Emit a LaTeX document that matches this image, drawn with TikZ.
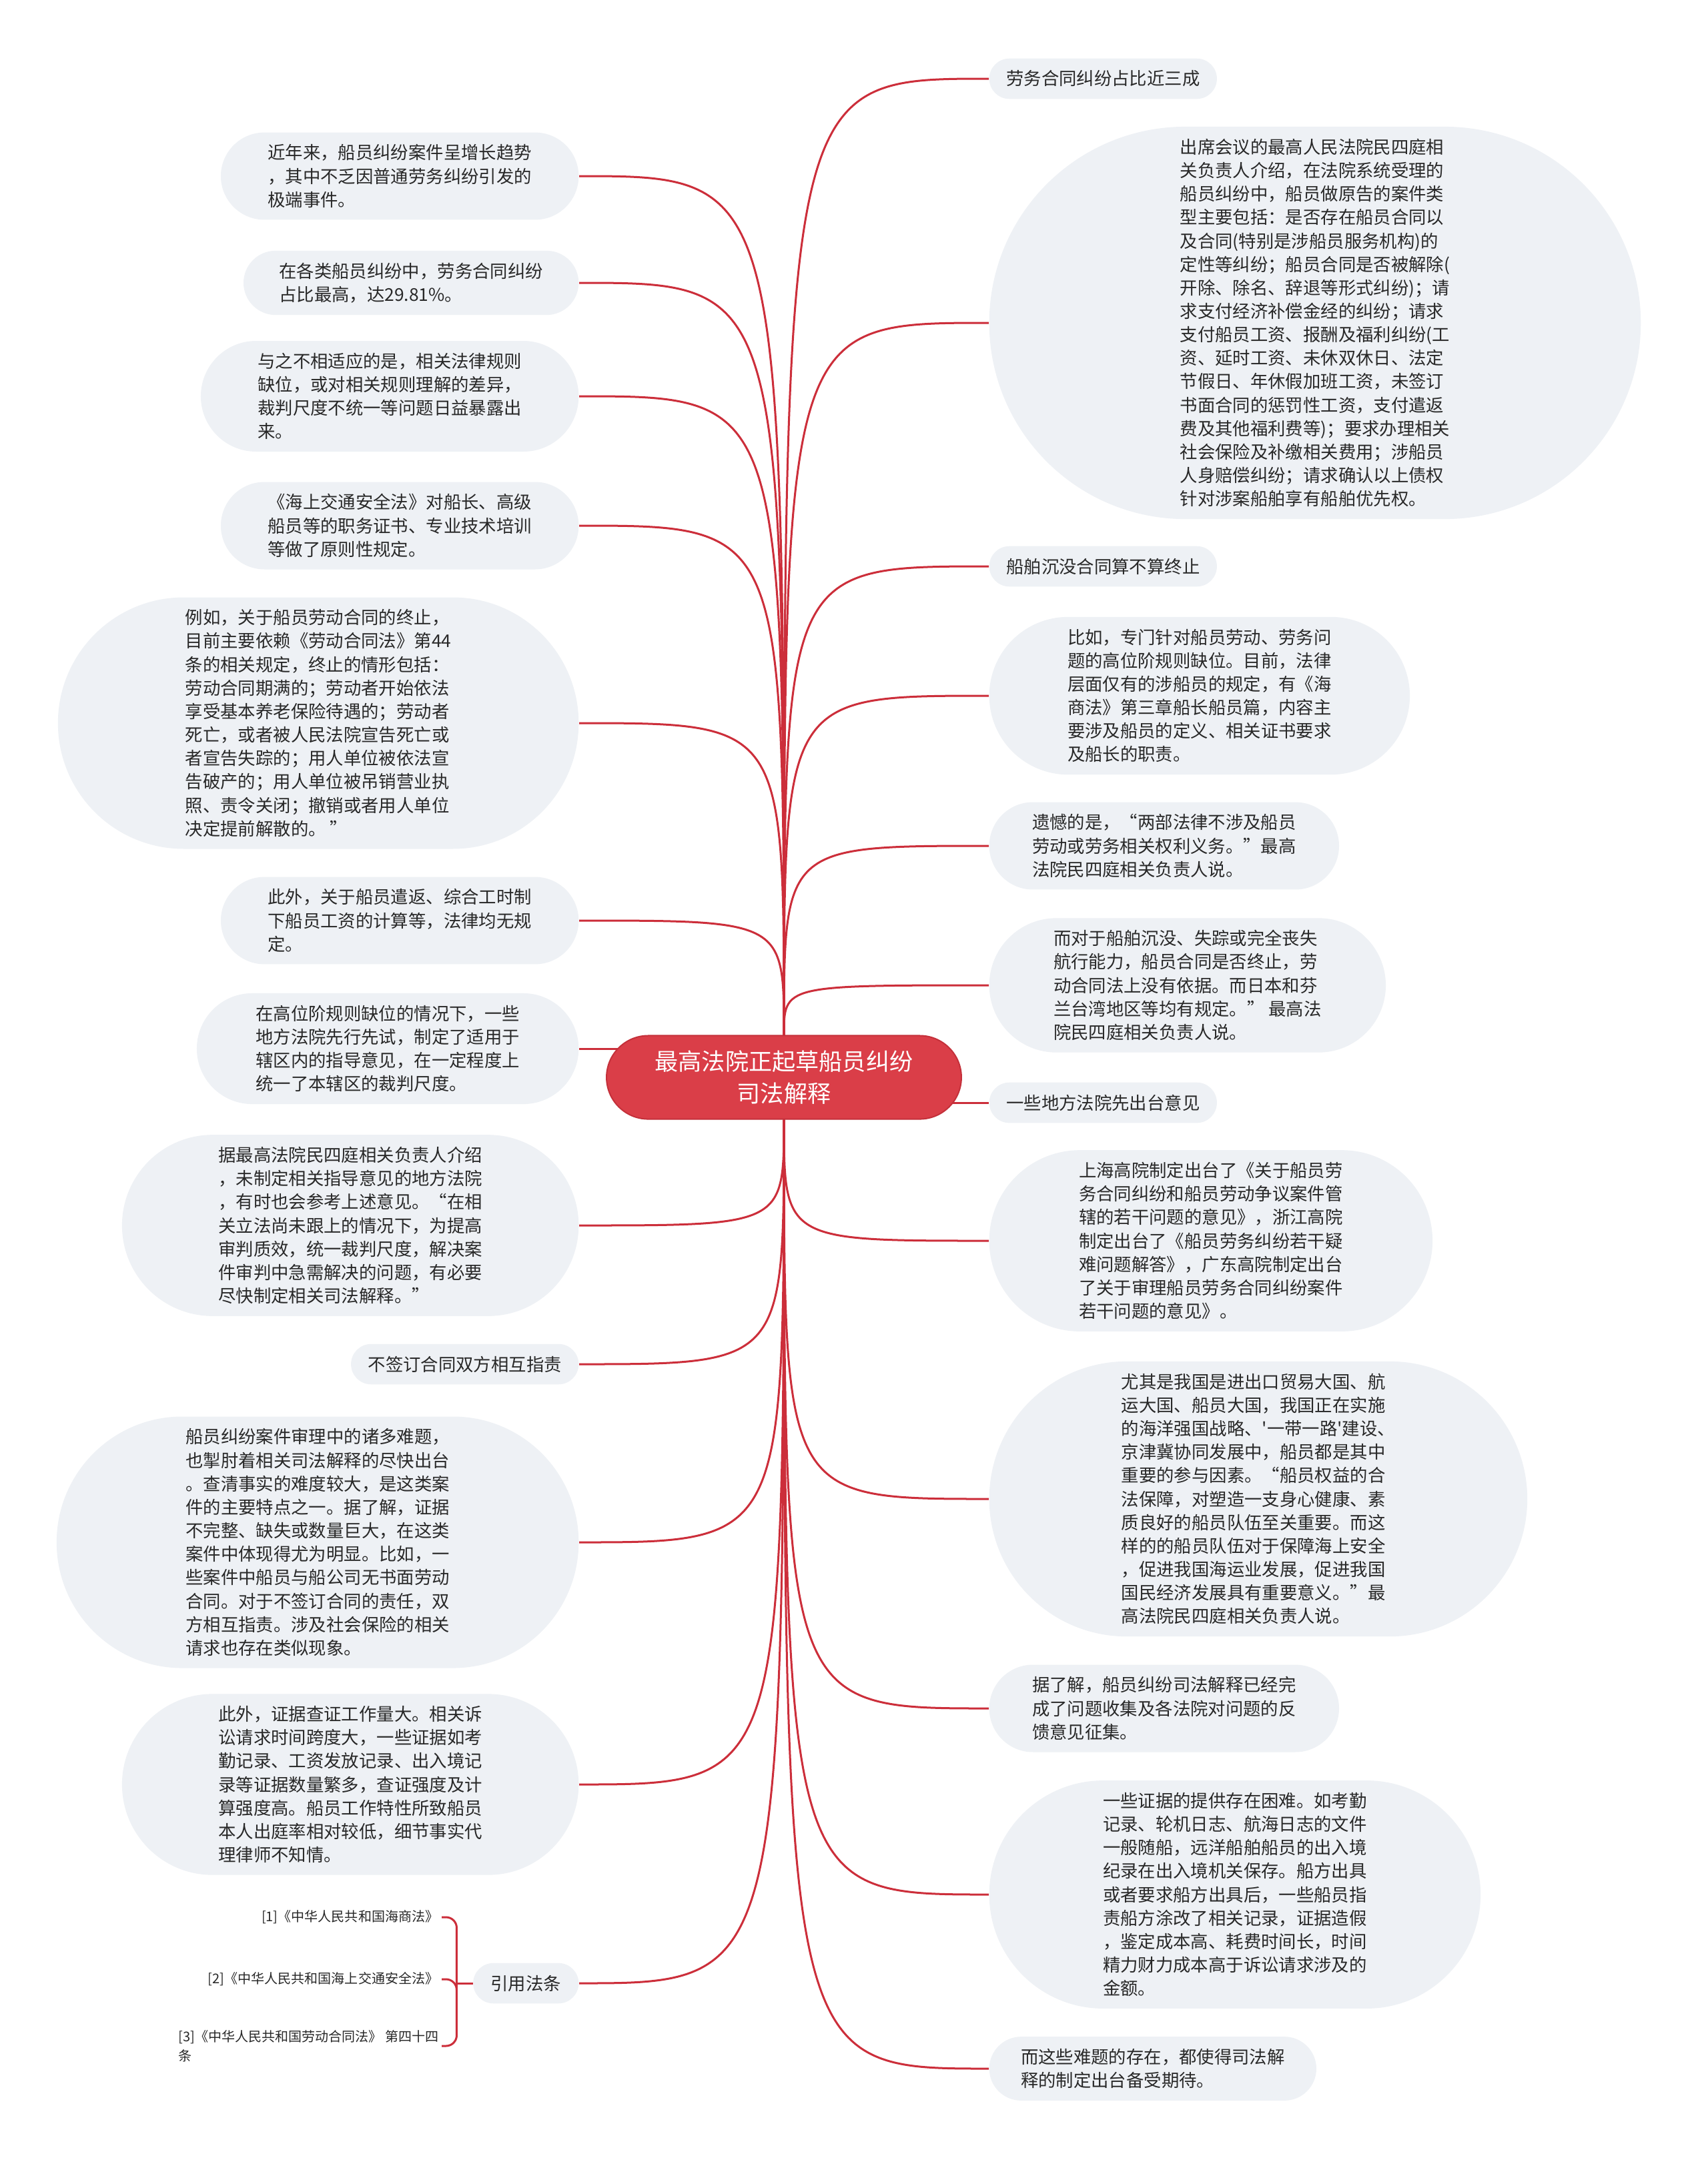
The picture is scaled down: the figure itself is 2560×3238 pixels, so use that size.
\documentclass[tikz,border=0pt]{standalone}
\usepackage{fontspec}
\newfontfamily\cjkfont{Noto Sans CJK SC}
\usepackage{xcolor}
\usetikzlibrary{
    shapes.misc,
    backgrounds
}
\definecolor{bubblefill}{RGB}{238,241,245}
\definecolor{rootred}{RGB}{218,62,72}
\definecolor{rootedge}{RGB}{196,48,58}
\definecolor{linkred}{RGB}{204,46,58}
\definecolor{inkgray}{RGB}{40,40,40}

\begin{document}
\begin{tikzpicture}[
    x=0.01cm, y=-0.01cm,
    bubble/.style={
        rounded rectangle,
        fill=bubblefill,
        text=inkgray,
        align=left,
        inner xsep=0.02cm,
        inner ysep=0.18cm,
        font=\cjkfont\fontsize{7.5pt}{10pt}\selectfont
    },
    rbubble/.style={bubble, anchor=west},
    lbubble/.style={bubble, anchor=east},
    root/.style={
        rounded rectangle,
        fill=rootred,
        draw=rootedge,
        line width=0.02cm,
        text=white,
        align=center,
        minimum width=5.55cm,
        minimum height=1.25cm,
        font=\cjkfont\fontsize{10pt}{13.4pt}\selectfont
    },
    lawref/.style={
        text=inkgray,
        inner sep=0.04cm,
        anchor=east,
        font=\cjkfont\fontsize{5.7pt}{8.2pt}\selectfont
    },
    link/.style={draw=linkred, line width=0.03cm}
]
\useasboundingbox (0,0) rectangle (2560,3238);

% centre
\node[root] (root) at (1175,1615) {最高法院正起草船员纠纷\\司法解释};

% right side
\node[rbubble, minimum width=3.45cm] (share) at (1482,118) {劳务合同纠纷占比近三成};
\node[rbubble, minimum width=9.8cm] (claims) at (1482,484) {出席会议的最高人民法院民四庭相\\关负责人介绍，在法院系统受理的\\船员纠纷中，船员做原告的案件类\\型主要包括：是否存在船员合同以\\及合同(特别是涉船员服务机构)的\\定性等纠纷；船员合同是否被解除(\\开除、除名、辞退等形式纠纷)；请\\求支付经济补偿金经的纠纷；请求\\支付船员工资、报酬及福利纠纷(工\\资、延时工资、未休双休日、法定\\节假日、年休假加班工资，未签订\\书面合同的惩罚性工资，支付遣返\\费及其他福利费等)；要求办理相关\\社会保险及补缴相关费用；涉船员\\人身赔偿纠纷；请求确认以上债权\\针对涉案船舶享有船舶优先权。};
\node[rbubble, minimum width=3.45cm] (sinking) at (1482,849) {船舶沉没合同算不算终止};
\node[rbubble, minimum width=6.34cm] (gap) at (1482,1043) {比如，专门针对船员劳动、劳务问\\题的高位阶规则缺位。目前，法律\\层面仅有的涉船员的规定，有《海\\商法》第三章船长船员篇，内容主\\要涉及船员的定义、相关证书要求\\及船长的职责。};
\node[rbubble, minimum width=5.28cm] (regret) at (1482,1268) {遗憾的是，“两部法律不涉及船员\\劳动或劳务相关权利义务。”最高\\法院民四庭相关负责人说。};
\node[rbubble, minimum width=5.98cm] (nobasis) at (1482,1477) {而对于船舶沉没、失踪或完全丧失\\航行能力，船员合同是否终止，劳\\动合同法上没有依据。而日本和芬\\兰台湾地区等均有规定。” 最高法\\院民四庭相关负责人说。};
\node[rbubble, minimum width=3.45cm] (local) at (1482,1653) {一些地方法院先出台意见};
\node[rbubble, minimum width=6.68cm] (courts) at (1482,1860) {上海高院制定出台了《关于船员劳\\务合同纠纷和船员劳动争议案件管\\辖的若干问题的意见》，浙江高院\\制定出台了《船员劳务纠纷若干疑\\难问题解答》，广东高院制定出台\\了关于审理船员劳务合同纠纷案件\\若干问题的意见》。};
\node[rbubble, minimum width=8.1cm] (nation) at (1482,2247) {尤其是我国是进出口贸易大国、航\\运大国、船员大国，我国正在实施\\的海洋强国战略、'一带一路'建设、\\京津冀协同发展中，船员都是其中\\重要的参与因素。“船员权益的合\\法保障，对塑造一支身心健康、素\\质良好的船员队伍至关重要。而这\\样的的船员队伍对于保障海上安全\\，促进我国海运业发展，促进我国\\国民经济发展具有重要意义。”最\\高法院民四庭相关负责人说。};
\node[rbubble, minimum width=5.28cm] (progress) at (1482,2561) {据了解，船员纠纷司法解释已经完\\成了问题收集及各法院对问题的反\\馈意见征集。};
\node[rbubble, minimum width=7.4cm] (evidence) at (1482,2840) {一些证据的提供存在困难。如考勤\\记录、轮机日志、航海日志的文件\\一般随船，远洋船舶船员的出入境\\纪录在出入境机关保存。船方出具\\或者要求船方出具后，一些船员指\\责船方涂改了相关记录，证据造假\\，鉴定成本高、耗费时间长，时间\\精力财力成本高于诉讼请求涉及的\\金额。};
\node[rbubble, minimum width=4.94cm] (expect) at (1482,3101) {而这些难题的存在，都使得司法解\\释的制定出台备受期待。};

% left side
\node[lbubble, minimum width=5.4cm] (trend) at (868,264) {近年来，船员纠纷案件呈增长趋势\\，其中不乏因普通劳务纠纷引发的\\极端事件。};
\node[lbubble, minimum width=5.06cm] (ratio) at (868,424) {在各类船员纠纷中，劳务合同纠纷\\占比最高，达29.81\%。};
\node[lbubble, minimum width=5.7cm] (mismatch) at (868,594) {与之不相适应的是，相关法律规则\\缺位，或对相关规则理解的差异，\\裁判尺度不统一等问题日益暴露出\\来。};
\node[lbubble, minimum width=5.4cm] (safety) at (868,788) {《海上交通安全法》对船长、高级\\船员等的职务证书、专业技术培训\\等做了原则性规定。};
\node[lbubble, minimum width=7.84cm] (example) at (868,1084) {例如，关于船员劳动合同的终止，\\目前主要依赖《劳动合同法》第44\\条的相关规定，终止的情形包括：\\劳动合同期满的；劳动者开始依法\\享受基本养老保险待遇的；劳动者\\死亡，或者被人民法院宣告死亡或\\者宣告失踪的；用人单位被依法宣\\告破产的；用人单位被吊销营业执\\照、责令关闭；撤销或者用人单位\\决定提前解散的。 ”};
\node[lbubble, minimum width=5.4cm] (repatriate) at (868,1380) {此外，关于船员遣返、综合工时制\\下船员工资的计算等，法律均无规\\定。};
\node[lbubble, minimum width=5.76cm] (pilot) at (868,1572) {在高位阶规则缺位的情况下，一些\\地方法院先行先试，制定了适用于\\辖区内的指导意见，在一定程度上\\统一了本辖区的裁判尺度。};
\node[lbubble, minimum width=6.88cm] (interpret) at (868,1837) {据最高法院民四庭相关负责人介绍\\，未制定相关指导意见的地方法院\\，有时也会参考上述意见。“在相\\关立法尚未跟上的情况下，为提高\\审判质效，统一裁判尺度，解决案\\件审判中急需解决的问题，有必要\\尽快制定相关司法解释。”};
\node[lbubble, minimum width=3.45cm] (blame) at (868,2045) {不签订合同双方相互指责};
\node[lbubble, minimum width=7.86cm] (puzzles) at (868,2312) {船员纠纷案件审理中的诸多难题，\\也掣肘着相关司法解释的尽快出台\\。查清事实的难度较大，是这类案\\件的主要特点之一。据了解，证据\\不完整、缺失或数量巨大，在这类\\案件中体现得尤为明显。比如，一\\些案件中船员与船公司无书面劳动\\合同。对于不签订合同的责任，双\\方相互指责。涉及社会保险的相关\\请求也存在类似现象。};
\node[lbubble, minimum width=6.88cm] (workload) at (868,2675) {此外，证据查证工作量大。相关诉\\讼请求时间跨度大，一些证据如考\\勤记录、工资发放记录、出入境记\\录等证据数量繁多，查证强度及计\\算强度高。船员工作特性所致船员\\本人出庭率相对较低，细节事实代\\理律师不知情。};
\node[lbubble, minimum width=1.62cm] (laws) at (868,2973) {引用法条};

% cited laws
\node[lawref] (ref1) at (662,2874) {[1]《中华人民共和国海商法》};
\node[lawref] (ref2) at (662,2967) {[2]《中华人民共和国海上交通安全法》};
\node[lawref, align=left] (ref3) at (662,3067) {[3]《中华人民共和国劳动合同法》 第四十四\\条};
\coordinate (fork) at ([xshift=-0.24cm]laws.west);

% connectors
\begin{scope}[on background layer]
\fill[white] (0,0) rectangle (2560,3238);
\foreach \n in {share,claims,sinking,gap,regret,nobasis}
    \draw[link] (root.north) .. controls (root.north |- \n.west) .. (\n.west);
\foreach \n in {courts,nation,progress,evidence,expect}
    \draw[link] (root.south) .. controls (root.south |- \n.west) .. (\n.west);
\foreach \n in {trend,ratio,mismatch,safety,example,repatriate}
    \draw[link] (root.north) .. controls (root.north |- \n.east) .. (\n.east);
\foreach \n in {interpret,blame,puzzles,workload,laws}
    \draw[link] (root.south) .. controls (root.south |- \n.east) .. (\n.east);
\draw[link] (root.center |- local.west) -- (local.west);
\draw[link] (root.center |- pilot.east) -- (pilot.east);
\draw[link] (laws.west) -- (fork);
\foreach \n in {ref1,ref2,ref3}
    \draw[link, rounded corners=0.16cm] (fork) |- (\n.east);
\end{scope}

\end{tikzpicture}
\end{document}
